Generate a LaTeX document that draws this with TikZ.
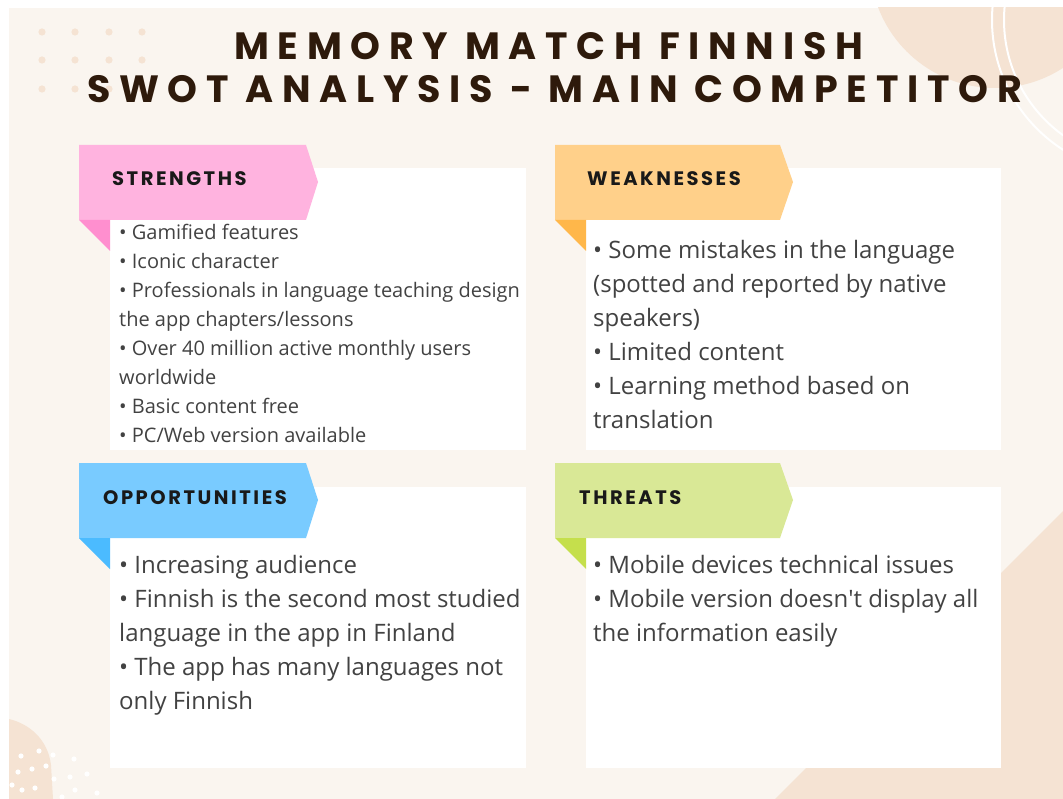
\documentclass[tikz,border=0pt]{standalone}
\usepackage{fontspec}
\setmainfont{Open Sans}
\newfontfamily\titlefont[LetterSpace=23]{Poppins Bold}
\newfontfamily\labelfont[LetterSpace=13]{Poppins Bold}
\definecolor{cream}{HTML}{FAF5EF}
\definecolor{peach}{HTML}{F5E3D3}
\definecolor{titlebrown}{HTML}{2E1A0B}
\definecolor{bodygray}{HTML}{424242}
\definecolor{pinkb}{HTML}{FFB3DF}
\definecolor{pinkf}{HTML}{FF8FCF}
\definecolor{orangeb}{HTML}{FFD08A}
\definecolor{orangef}{HTML}{FFB74A}
\definecolor{blueb}{HTML}{79CBFF}
\definecolor{bluef}{HTML}{4BBBFF}
\definecolor{greenb}{HTML}{D9E896}
\definecolor{greenf}{HTML}{C5DF4C}
\tikzset{
  card/.style={fill=white, draw=none},
  lbl/.style={anchor=base west, inner sep=0pt, text=black!90, font={\labelfont\fontsize{19.5}{22}\selectfont}},
  ttl/.style={anchor=base west, inner sep=0pt, text=titlebrown, font={\titlefont\fontsize{38}{44}\selectfont}},
  body/.style={anchor=base west, inner sep=0pt, text=bodygray},
  dot/.style={fill=peach, draw=none},
  wdot/.style={fill=white, draw=none},
}
\newcommand{\smallbody}[1]{\parbox[t]{420pt}{\fontsize{20}{29}\selectfont\raggedright #1\par}}
\newcommand{\bigbody}[1]{\parbox[t]{440pt}{\fontsize{24}{34}\selectfont\raggedright #1\par}}
\begin{document}
\begin{tikzpicture}[x=1pt,y=-1pt]
\useasboundingbox (0,0) rectangle (1063,799);
\fill[white] (0,0) rectangle (1063,799);
\fill[cream] (9,8) rectangle (1063,799);
\begin{scope}
\clip (9,8) rectangle (1063,799);
\fill[peach] (995,-37) circle[radius=125];
\draw[white, line width=2pt] (1146,20) circle[radius=154];
\draw[white, line width=2pt] (1146,20) circle[radius=142];
\fill[peach] (775,799) -- (1063,511) -- (1063,799) -- cycle;
\fill[peach] (9,719) .. controls (30,724) and (48,740) .. (51,765) -- (53,799) -- (9,799) -- cycle;
\end{scope}
% top-left dots
\foreach \px in {42,75,109,142}{
  \foreach \py in {32,60,89}{
    \fill[dot] (\px,\py) circle[radius=3.6];
  }
}
% bottom-left white dots
\foreach \px/\py in {21/756,39/751,53/755,74/759,32/769,46/766,18/772,70/777,87/774,54/779,35/788,22/790,75/790,97/793,62/797,12/785}{
  \fill[wdot] (\px,\py) circle[radius=2.6];
}
% cards
\fill[card] (110,168) rectangle (526,450);
\fill[card] (586,168) rectangle (1001,450);
\fill[card] (110,487) rectangle (526,768);
\fill[card] (586,487) rectangle (1001,768);
% banners
\fill[pinkb] (79,145) -- (306,145) -- (318,182) -- (306,220) -- (79,220) -- cycle;
\fill[pinkf] (79,220) -- (110,220) -- (110,251) -- cycle;
\fill[orangeb] (555,145) -- (780,145) -- (793,182) -- (780,220) -- (555,220) -- cycle;
\fill[orangef] (555,220) -- (586,220) -- (586,251) -- cycle;
\fill[blueb] (79,463) -- (306,463) -- (318,500) -- (306,538) -- (79,538) -- cycle;
\fill[bluef] (79,538) -- (110,538) -- (110,569) -- cycle;
\fill[greenb] (555,463) -- (780,463) -- (793,500) -- (780,538) -- (555,538) -- cycle;
\fill[greenf] (555,538) -- (586,538) -- (586,569) -- cycle;
% title
\node[ttl] (title1) at (234,60) {MEMORY MATCH FINNISH};
\node[ttl] (title2) at (87,103) {SWOT ANALYSIS - MAIN COMPETITOR};
% labels
\node[lbl] (ls) at (112,186) {STRENGTHS};
\node[lbl] (lw) at (587,186) {WEAKNESSES};
\node[lbl] (lo) at (103,504) {OPPORTUNITIES};
\node[lbl] (lt) at (579,504) {THREATS};
% body texts
\node[body] (ts) at (119,240) {\smallbody{• Gamified features\\
• Iconic character\\
• Professionals in language teaching design\\
the app chapters/lessons\\
• Over 40 million active monthly users\\
worldwide\\
• Basic content free\\
• PC/Web version available}};
\node[body] (tw) at (593,259) {\bigbody{• Some mistakes in the language\\
(spotted and reported by native\\
speakers)\\
• Limited content\\
• Learning method based on\\
translation}};
\node[body] (to) at (119,573) {\bigbody{• Increasing audience\\
• Finnish is the second most studied\\
language in the app in Finland\\
• The app has many languages not\\
only Finnish}};
\node[body] (tt) at (593,573) {\bigbody{• Mobile devices technical issues\\
• Mobile version doesn\textquotesingle t display all\\
the information easily}};
\end{tikzpicture}
\end{document}
